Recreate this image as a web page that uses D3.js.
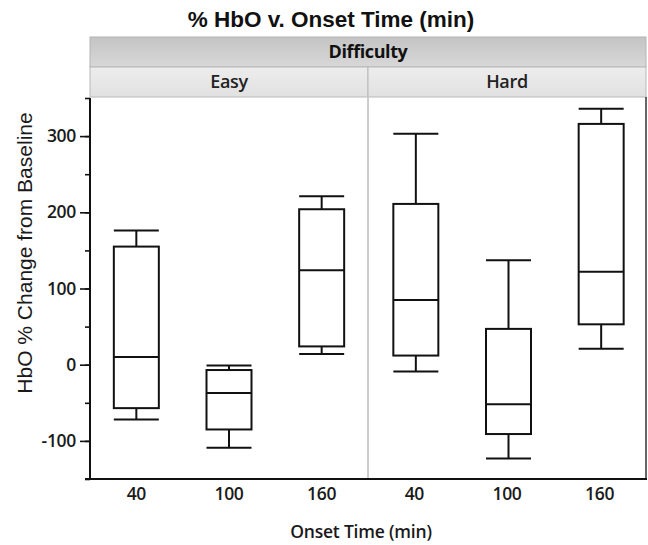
<!DOCTYPE html>
<html>
<head>
<meta charset="utf-8">
<script src="https://cdn.jsdelivr.net/npm/d3@7"></script>
<style>
  html, body { margin: 0; padding: 0; background: #fff; }
  svg { display: block; }
</style>
</head>
<body>
<svg id="chart" width="648" height="545"></svg>
<script>
// ---- data ----
const panels = ["Easy", "Hard"];
const onsetTimes = ["40", "100", "160"];
// order: Easy 40, Easy 100, Easy 160, Hard 40, Hard 100, Hard 160
const boxPanel    = ["Easy", "Easy", "Easy", "Hard", "Hard", "Hard"];
const boxTime     = ["40", "100", "160", "40", "100", "160"];
const whiskerHigh = [176,  -1, 221, 303, 137, 336];
const q3          = [155,  -7, 204, 211,  47, 316];
const median      = [ 10, -37, 124,  85, -52, 122];
const q1          = [-57, -85,  24,  12, -91,  53];
const whiskerLow  = [-72, -109, 14,  -9, -123, 21];
const yTickLabels = [-100, 0, 100, 200, 300];
const yMinorTicks = [-150, -100, -50, 0, 50, 100, 150, 200, 250, 300, 350];

const titleText = "% HbO v. Onset Time (min)";
const groupTitle = "Difficulty";
const yTitle = "HbO % Change from Baseline";
const xTitle = "Onset Time (min)";

// ---- layout ----
const svg = d3.select("#chart");
const plotL = 90, plotR = 646, plotT = 98, plotB = 479;
const segoe = "'Open Sans', 'Noto Sans', sans-serif";
const arial = "'Liberation Sans', Arial, sans-serif";

const y = d3.scaleLinear().domain([-150, 350]).range([plotB, plotT]);
const xPanel = d3.scaleBand().domain(panels).range([plotL, plotR]).padding(0);
const xTime = d3.scaleBand().domain(onsetTimes).range([0, xPanel.bandwidth()]).paddingInner(0.02).paddingOuter(0.01);
const boxW = 45;

// defs: gradients
const defs = svg.append("defs");
const g1 = defs.append("linearGradient").attr("id", "gHead").attr("x1", 0).attr("y1", 0).attr("x2", 0).attr("y2", 1);
g1.append("stop").attr("offset", "0%").attr("stop-color", "#c4c4c4");
g1.append("stop").attr("offset", "100%").attr("stop-color", "#d8d8d8");
const g2 = defs.append("linearGradient").attr("id", "gSub").attr("x1", 0).attr("y1", 0).attr("x2", 0).attr("y2", 1);
g2.append("stop").attr("offset", "0%").attr("stop-color", "#ededed");
g2.append("stop").attr("offset", "100%").attr("stop-color", "#e1e1e1");

// title
svg.append("text")
  .attr("x", 331).attr("y", 27)
  .attr("text-anchor", "middle")
  .attr("font-family", arial).attr("font-weight", "bold").attr("font-size", 22.5)
  .attr("fill", "#111")
  .text(titleText);

// header: Difficulty band
svg.append("rect")
  .attr("x", plotL).attr("y", 37).attr("width", plotR - plotL).attr("height", 30)
  .attr("fill", "url(#gHead)").attr("stroke", "#b4b4b4").attr("stroke-width", 1);
svg.append("text")
  .attr("x", 368).attr("y", 58)
  .attr("text-anchor", "middle")
  .attr("font-family", segoe).attr("font-weight", "bold").attr("font-size", 18)
  .attr("letter-spacing", -0.4)
  .attr("fill", "#111")
  .text(groupTitle);

// header: Easy / Hard
const sub = svg.selectAll("g.sub").data(panels).enter().append("g").attr("class", "sub");
sub.append("rect")
  .attr("x", d => xPanel(d)).attr("y", 67).attr("width", xPanel.bandwidth()).attr("height", 30)
  .attr("fill", "url(#gSub)").attr("stroke", "#b8b8b8").attr("stroke-width", 1);
sub.append("text")
  .attr("x", d => xPanel(d) + xPanel.bandwidth() / 2).attr("y", 88)
  .attr("text-anchor", "middle")
  .attr("font-family", segoe).attr("font-size", 18).attr("font-weight", 600)
  .attr("letter-spacing", -0.3)
  .attr("fill", "#222")
  .text(d => d);

// panel divider in plot
svg.append("line")
  .attr("x1", xPanel("Hard")).attr("x2", xPanel("Hard"))
  .attr("y1", plotT).attr("y2", plotB)
  .attr("stroke", "#9a9a9a").attr("stroke-width", 1);

// right border
svg.append("line")
  .attr("x1", plotR).attr("x2", plotR).attr("y1", 97).attr("y2", plotB)
  .attr("stroke", "#333").attr("stroke-width", 1.5);

// y axis (major ticks with labels)
const yAxis = svg.append("g")
  .attr("transform", `translate(${plotL},0)`)
  .call(d3.axisLeft(y).tickValues(yTickLabels).tickSize(10).tickPadding(4).tickFormat(d => String(d)));
yAxis.select(".domain").remove();
yAxis.selectAll(".tick line").attr("stroke", "#111").attr("stroke-width", 1.6);
yAxis.selectAll(".tick text")
  .attr("font-family", segoe).attr("font-size", 17.5).attr("font-weight", 600)
  .attr("letter-spacing", -0.3).attr("fill", "#1a1a1a");

// minor ticks
const yMinor = svg.append("g")
  .attr("transform", `translate(${plotL},0)`)
  .call(d3.axisLeft(y).tickValues(yMinorTicks).tickSize(5).tickFormat(""));
yMinor.select(".domain").remove();
yMinor.selectAll(".tick line").attr("stroke", "#111").attr("stroke-width", 1.6);

// axis lines
svg.append("line")
  .attr("x1", plotL).attr("x2", plotL).attr("y1", plotT).attr("y2", plotB)
  .attr("stroke", "#111").attr("stroke-width", 2);
svg.append("line")
  .attr("x1", plotL - 5).attr("x2", plotR + 1).attr("y1", plotB).attr("y2", plotB)
  .attr("stroke", "#111").attr("stroke-width", 2);

// x tick labels per panel
panels.forEach(p => {
  const ax = svg.append("g")
    .attr("transform", `translate(${xPanel(p)},${plotB})`)
    .call(d3.axisBottom(xTime).tickSize(0).tickPadding(9));
  ax.select(".domain").remove();
  ax.selectAll(".tick text")
    .attr("font-family", segoe).attr("font-size", 17.5).attr("font-weight", 600)
    .attr("letter-spacing", -0.3).attr("fill", "#1a1a1a");
});

// axis titles
svg.append("text")
  .attr("transform", `translate(32,253) rotate(-90)`)
  .attr("text-anchor", "middle")
  .attr("font-family", arial).attr("font-size", 21)
  .attr("fill", "#1a1a1a")
  .text(yTitle);
svg.append("text")
  .attr("x", 361).attr("y", 538)
  .attr("text-anchor", "middle")
  .attr("font-family", segoe).attr("font-size", 17.5).attr("font-weight", 600)
  .attr("letter-spacing", -0.2)
  .attr("fill", "#1a1a1a")
  .text(xTitle);

// boxes
const boxData = boxPanel.map((p, i) => ({
  panel: p, time: boxTime[i],
  hi: whiskerHigh[i], q3: q3[i], med: median[i], q1: q1[i], lo: whiskerLow[i]
}));
const cx = d => xPanel(d.panel) + xTime(d.time) + xTime.bandwidth() / 2 + (d.panel === "Hard" ? 1.5 : 0);

const boxes = svg.selectAll("g.box").data(boxData).enter().append("g").attr("class", "box")
  .attr("stroke", "#111").attr("stroke-width", 2).attr("fill", "none");

// whiskers
boxes.append("line")
  .attr("x1", cx).attr("x2", cx).attr("y1", d => y(d.hi)).attr("y2", d => y(d.q3));
boxes.append("line")
  .attr("x1", cx).attr("x2", cx).attr("y1", d => y(d.q1)).attr("y2", d => y(d.lo));
// caps
boxes.append("line")
  .attr("x1", d => cx(d) - boxW / 2).attr("x2", d => cx(d) + boxW / 2)
  .attr("y1", d => y(d.hi)).attr("y2", d => y(d.hi));
boxes.append("line")
  .attr("x1", d => cx(d) - boxW / 2).attr("x2", d => cx(d) + boxW / 2)
  .attr("y1", d => y(d.lo)).attr("y2", d => y(d.lo));
// box
boxes.append("rect")
  .attr("x", d => cx(d) - boxW / 2).attr("width", boxW)
  .attr("y", d => y(d.q3)).attr("height", d => y(d.q1) - y(d.q3))
  .attr("fill", "#fff");
// median
boxes.append("line")
  .attr("x1", d => cx(d) - boxW / 2).attr("x2", d => cx(d) + boxW / 2)
  .attr("y1", d => y(d.med)).attr("y2", d => y(d.med));
</script>
</body>
</html>
